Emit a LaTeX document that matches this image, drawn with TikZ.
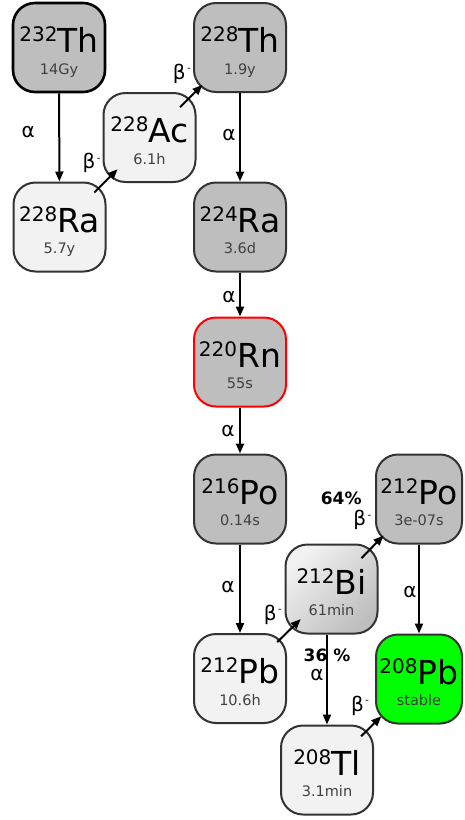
\documentclass[tikz,border=0pt]{standalone}
\usepackage{fontspec}
\setmainfont{DejaVu Sans}
\usetikzlibrary{arrows.meta}

\definecolor{alphafill}{HTML}{BEBEBE}
\definecolor{betafill}{HTML}{F2F2F2}
\definecolor{stablefill}{HTML}{00FF00}
\definecolor{edge}{HTML}{333333}
\definecolor{halflife}{HTML}{404040}

% mass number, symbol, half-life
\newcommand{\nuc}[3]{\rule{0pt}{35pt}\raisebox{11pt}{\fontsize{20pt}{20pt}\selectfont #1}{\fontsize{33pt}{33pt}\selectfont #2}\\{\color{halflife}#3}\rule[-3.5pt]{0pt}{3.5pt}}
\newcommand{\betaminus}{β\kern1.5pt\raisebox{7.5pt}{\fontsize{10pt}{10pt}\selectfont -}}

\begin{document}
\begin{tikzpicture}[
    x=1pt, y=-1pt,
    nuclide/.style={rectangle, rounded corners=22pt, draw=edge, line width=2pt, minimum width=92pt, minimum height=89pt, inner sep=0pt, align=center, font=\fontsize{14.5pt}{21.5pt}\selectfont},
    alphanuc/.style={nuclide, fill=alphafill},
    betanuc/.style={nuclide, fill=betafill},
    decay/.style={line width=2pt, -{Triangle[length=10pt,width=8pt]}},
    lbl/.style={font=\fontsize{20pt}{20pt}\selectfont, inner sep=0pt},
    share/.style={font=\bfseries\fontsize{17pt}{17pt}\selectfont, inner sep=0pt},
    betalbl/.style={lbl, xshift=-13pt, yshift=19pt}
]
\useasboundingbox (0,0) rectangle (464,820);

% Nuclides
\node (th232) [alphanuc, draw=black, line width=2.6pt] at (59,47.5) {\nuc{232}{Th}{14Gy}};
\node (ra228) [betanuc] at (59.5,227) {\nuc{228}{Ra}{5.7y}};
\node (ac228) [betanuc] at (149.5,137.5) {\nuc{228}{Ac}{6.1h}};
\node (th228) [alphanuc] at (240,47.5) {\nuc{228}{Th}{1.9y}};
\node (ra224) [alphanuc] at (240,227) {\nuc{224}{Ra}{3.6d}};
\node (rn220) [alphanuc, draw=red] at (240,362) {\nuc{220}{Rn}{55s}};
\node (po216) [alphanuc] at (240,499) {\nuc{216}{Po}{0.14s}};
\node (pb212) [betanuc] at (240,678.5) {\nuc{212}{Pb}{10.6h}};
\node (bi212) [nuclide, top color=betafill, bottom color=alphafill, shading angle=45] at (331.5,589) {\nuc{212}{Bi}{61min}};
\node (po212) [alphanuc, minimum width=86pt] at (419,499) {\nuc{212}{Po}{3e-07s}};
\node (pb208) [nuclide, fill=stablefill, minimum width=86pt] at (419,679) {\nuc{208}{Pb}{stable}};
\node (tl208) [betanuc] at (327,770) {\nuc{208}{Tl}{3.1min}};

% Alpha decays
\draw [decay] (th232) -- node[lbl, xshift=-31pt, yshift=5pt] {α} (ra228);
\draw [decay] (th228) -- node[lbl, xshift=-11pt, yshift=2pt] {α} (ra224);
\draw [decay] (ra224) -- node[lbl, xshift=-11pt, yshift=-3pt] {α} (rn220);
\draw [decay] (rn220) -- node[lbl, xshift=-12pt, yshift=-1pt] {α} (po216);
\draw [decay] (po216) -- node[lbl, xshift=-12pt, yshift=2pt] {α} (pb212);
\draw [decay] (po212) -- node[lbl, xshift=-9pt, yshift=-3pt] {α} (pb208);
\draw [decay] (tl208.north |- bi212.south) -- node[share, yshift=24pt] {36 \%} node[lbl, xshift=-10pt, yshift=4pt] {α} (tl208.north);

% Beta decays
\draw [decay, shorten <=49pt, shorten >=45pt] (ra228.center) -- node[betalbl] {\betaminus} (ac228.center);
\draw [decay, shorten <=43pt, shorten >=53pt] (ac228.center) -- node[betalbl] {\betaminus} (th228.center);
\draw [decay, shorten <=52pt, shorten >=43pt] (pb212.center) -- node[betalbl] {\betaminus} (bi212.center);
\draw [decay, shorten <=43pt, shorten >=51pt] (bi212.center) -- node[betalbl, yshift=5pt] {\betaminus} node[share, xshift=-34pt, yshift=46pt] {64\%} (po212.center);
\draw [decay, shorten <=48pt, shorten >=53pt] (tl208.center) -- node[betalbl] {\betaminus} (pb208.center);

\end{tikzpicture}
\end{document}
